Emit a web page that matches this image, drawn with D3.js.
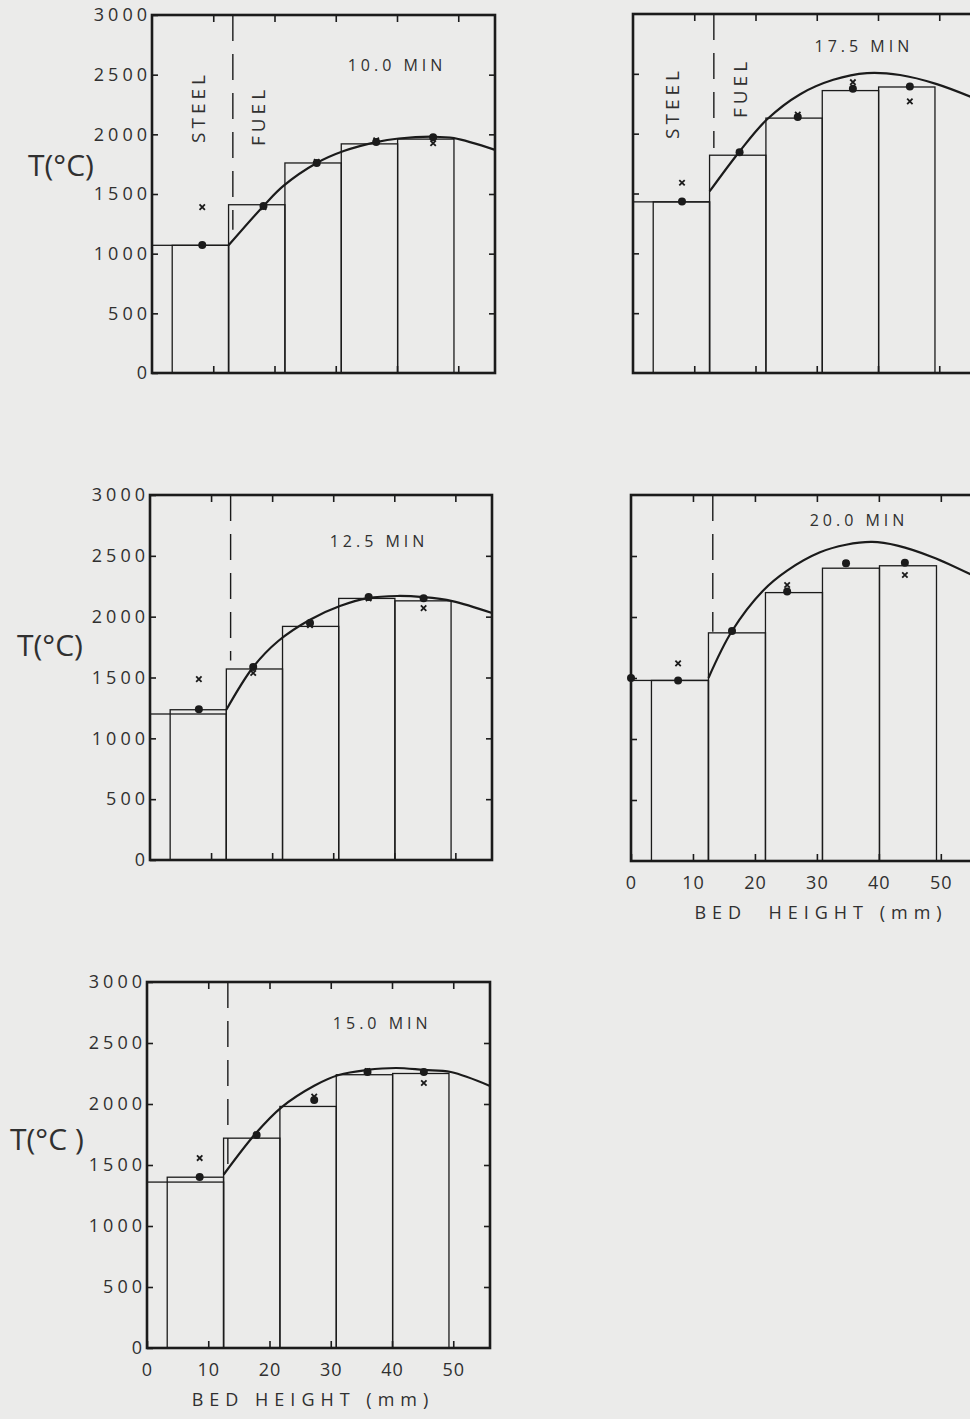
<!DOCTYPE html>
<html>
<head>
<meta charset="utf-8">
<script src="https://cdn.jsdelivr.net/npm/d3@7"></script>
<style>
  body { margin: 0; background: #ebebea; }
  svg { display: block; }
  text { font-family: "Open Sans", "DejaVu Sans", sans-serif; fill: #303030; }
</style>
</head>
<body>
<script>
// panel order: 10.0, 12.5, 15.0, 17.5, 20.0 min
const times = ["10.0 MIN", "12.5 MIN", "15.0 MIN", "17.5 MIN", "20.0 MIN"];
const yTicks = [0, 500, 1000, 1500, 2000, 2500, 3000];
const xTicks = [0, 10, 20, 30, 40, 50];
const innerXTicks = [10, 20, 30, 40, 50];
const innerYTicks = [500, 1000, 1500, 2000, 2500];

// bed zones (mm)
const steelEdges = [0, 3.3, 12.5];
const fuelEdges = [12.5, 21.7, 30.9, 40.1, 49.3];
const zoneBoundary = 13.2;

// node temperatures (deg C)
const steelTemps = [
  [1070, 1070],
  [1200, 1235],
  [1360, 1400],
  [1430, 1430],
  [1480, 1480]
];
const fuelTemps = [
  [1410, 1760, 1920, 1960],
  [1570, 1920, 2150, 2130],
  [1720, 1980, 2240, 2250],
  [1820, 2130, 2360, 2390],
  [1870, 2200, 2400, 2420]
];

// measured points: dots and crosses
const dotX = [
  [8.2, 18.2, 26.9, 36.6, 45.9],
  [8.0, 16.9, 26.2, 35.8, 44.8],
  [8.6, 17.9, 27.3, 36.0, 45.2],
  [8.0, 17.4, 26.9, 35.9, 45.2],
  [0, 7.6, 16.3, 25.2, 34.7, 44.2]
];
const dotT = [
  [1073, 1400, 1760, 1935, 1975],
  [1240, 1586, 1947, 2161, 2152],
  [1402, 1746, 2033, 2262, 2262],
  [1433, 1845, 2140, 2375, 2395],
  [1500, 1480, 1885, 2210, 2440, 2445]
];
const crossX = [
  [8.2, 18.2, 26.9, 36.6, 45.9],
  [8.0, 16.9, 26.2, 35.8, 44.8],
  [8.6, 17.9, 27.3, 36.0, 45.2],
  [8.0, 17.4, 26.9, 35.9, 45.2],
  [7.6, 16.3, 25.2, 34.7, 44.2]
];
const crossT = [
  [1390, 1390, 1770, 1950, 1925],
  [1487, 1537, 1930, 2150, 2070],
  [1557, 1746, 2060, 2270, 2172],
  [1590, 1845, 2160, 2430, 2270],
  [1620, 1885, 2262, 2440, 2344]
];

// calculated profile
const curveX = [
  [12.5, 18.2, 21.5, 26.9, 31.3, 36.6, 40.3, 45.9, 49.3, 56],
  [12.5, 16.9, 21.0, 26.2, 31.1, 35.7, 40.5, 44.8, 49.5, 56],
  [12.5, 17.8, 22.0, 27.3, 31.3, 35.9, 40.7, 45.2, 49.6, 56],
  [12.5, 17.3, 21.9, 27.3, 32.7, 38.2, 43.6, 49.6, 56],
  [12.5, 16.3, 21.3, 25.2, 30.5, 34.7, 38.9, 43.0, 48.7, 56]
];
const curveT = [
  [1070, 1400, 1570, 1760, 1860, 1935, 1965, 1980, 1968, 1870],
  [1235, 1586, 1800, 1975, 2087, 2152, 2170, 2160, 2128, 2030],
  [1420, 1762, 1975, 2150, 2238, 2279, 2295, 2279, 2262, 2148],
  [1517, 1845, 2120, 2330, 2450, 2506, 2490, 2414, 2290],
  [1500, 1885, 2215, 2380, 2530, 2592, 2615, 2585, 2490, 2320]
];
const dashEnd = [1200, 1640, 1430, 1880, 1880];

// page placement of each panel
const layout = [
  { left: 152, top: 15,  w: 343, h: 358, yLab: true,  xLab: null, tLab: [28, 176, "T(°C)"],  title: [40.0, 56], zones: [[46, 92], [106, 101]] },
  { left: 150, top: 495, w: 342, h: 365, yLab: true,  xLab: null, tLab: [17, 656, "T(°C)"],  title: [37.5, 52], zones: null },
  { left: 147, top: 982, w: 343, h: 366, yLab: true,  xLab: [166, 58], tLab: [10, 1150, "T(°C )"], title: [38.4, 47], zones: null },
  { left: 633, top: 14,  w: 343, h: 359, yLab: false, xLab: null, tLab: null, title: [37.7, 38], zones: [[39, 89], [107, 74]] },
  { left: 631, top: 495, w: 347, h: 366, yLab: false, xLab: [190, 58], tLab: null, title: [36.8, 31], zones: null }
];

const ink = "#1b1b1b";
const svg = d3.select("body").append("svg")
  .attr("width", 970)
  .attr("height", 1419);

layout.forEach((p, i) => {
  const x = d3.scaleLinear().domain([0, 56]).range([0, p.w]);
  const y = d3.scaleLinear().domain([0, 3000]).range([p.h, 0]);
  const g = svg.append("g").attr("transform", `translate(${p.left},${p.top})`);

  // node boxes
  const boxes = [
    { x0: steelEdges[0], x1: steelEdges[2], t: steelTemps[i][0] },
    { x0: steelEdges[1], x1: steelEdges[2], t: steelTemps[i][1] }
  ];
  fuelTemps[i].forEach((t, k) => boxes.push({ x0: fuelEdges[k], x1: fuelEdges[k + 1], t: t }));
  g.selectAll("rect.node")
    .data(boxes)
    .enter()
    .append("rect")
    .attr("class", "node")
    .attr("x", d => x(d.x0))
    .attr("width", d => x(d.x1) - x(d.x0))
    .attr("y", d => y(d.t))
    .attr("height", d => y(0) - y(d.t))
    .attr("fill", "none")
    .attr("stroke", ink)
    .attr("stroke-width", 1.3);

  // steel / fuel boundary
  g.append("line")
    .attr("x1", x(zoneBoundary)).attr("x2", x(zoneBoundary))
    .attr("y1", y(3000)).attr("y2", y(dashEnd[i]))
    .attr("stroke", ink)
    .attr("stroke-width", 1.4)
    .attr("stroke-dasharray", "26,13");

  // profile curve
  const pts = curveX[i].map((v, k) => [v, curveT[i][k]]);
  g.append("path")
    .datum(pts)
    .attr("fill", "none")
    .attr("stroke", ink)
    .attr("stroke-width", 2.2)
    .attr("d", d3.line().x(d => x(d[0])).y(d => y(d[1])).curve(d3.curveCatmullRom.alpha(0.5)));

  // crosses
  const cr = 2.7;
  g.selectAll("path.cross")
    .data(crossX[i].map((v, k) => [v, crossT[i][k]]))
    .enter()
    .append("path")
    .attr("class", "cross")
    .attr("transform", d => `translate(${x(d[0])},${y(d[1])})`)
    .attr("d", `M${-cr},${-cr}L${cr},${cr}M${-cr},${cr}L${cr},${-cr}`)
    .attr("stroke", ink)
    .attr("stroke-width", 1.8);

  // dots
  g.selectAll("circle.dot")
    .data(dotX[i].map((v, k) => [v, dotT[i][k]]))
    .enter()
    .append("circle")
    .attr("class", "dot")
    .attr("cx", d => x(d[0]))
    .attr("cy", d => y(d[1]))
    .attr("r", 4)
    .attr("fill", ink);

  // frame
  g.append("rect")
    .attr("width", p.w).attr("height", p.h)
    .attr("fill", "none")
    .attr("stroke", ink)
    .attr("stroke-width", 2.6);

  // axes, ticks pointing inwards
  const left = g.append("g")
    .call(d3.axisLeft(y).tickValues(p.yLab ? yTicks : innerYTicks)
      .tickSizeInner(-6).tickSizeOuter(0).tickPadding(1)
      .tickFormat(p.yLab ? d3.format("d") : ""));
  g.append("g").attr("transform", `translate(${p.w},0)`)
    .call(d3.axisRight(y).tickValues(innerYTicks).tickSizeInner(-6).tickSizeOuter(0).tickFormat(""));
  g.append("g")
    .call(d3.axisTop(x).tickValues(innerXTicks).tickSizeInner(-7).tickSizeOuter(0).tickFormat(""));
  const bottom = g.append("g").attr("transform", `translate(0,${p.h})`)
    .call(d3.axisBottom(x).tickValues(p.xLab ? xTicks : innerXTicks)
      .tickSizeInner(-7).tickSizeOuter(0).tickPadding(15)
      .tickFormat(p.xLab ? d3.format("d") : ""));

  g.selectAll(".domain").remove();
  g.selectAll(".tick line").attr("stroke", ink).attr("stroke-width", 1.6);
  left.selectAll("text")
    .style("font-size", "18px")
    .style("letter-spacing", "4px")
    .attr("fill", "#303030");
  bottom.selectAll("text")
    .style("font-size", "18px")
    .style("letter-spacing", "1px")
    .attr("fill", "#303030");

  // panel title
  g.append("text")
    .attr("x", x(p.title[0]))
    .attr("y", p.title[1])
    .attr("text-anchor", "middle")
    .style("font-size", "16px")
    .style("letter-spacing", "4px")
    .text(times[i]);

  if (p.zones) {
    ["STEEL", "FUEL"].forEach((name, k) => {
      g.append("text")
        .attr("transform", `translate(${p.zones[k][0]},${p.zones[k][1]}) rotate(-90)`)
        .attr("text-anchor", "middle")
        .attr("dominant-baseline", "central")
        .style("font-size", "19px")
        .style("letter-spacing", "4px")
        .text(name);
    });
  }

  if (p.xLab) {
    g.append("text")
      .attr("x", p.xLab[0])
      .attr("y", p.h + p.xLab[1])
      .attr("text-anchor", "middle")
      .style("font-size", "18px")
      .style("letter-spacing", "6px")
      .style("white-space", "pre")
      .text(i === 4 ? "BED  HEIGHT (mm)" : "BED HEIGHT (mm)");
  }

  if (p.tLab) {
    svg.append("text")
      .attr("x", p.tLab[0])
      .attr("y", p.tLab[1])
      .style("font-size", "30px")
      .style("white-space", "pre")
      .text(p.tLab[2]);
  }
});
</script>
</body>
</html>
